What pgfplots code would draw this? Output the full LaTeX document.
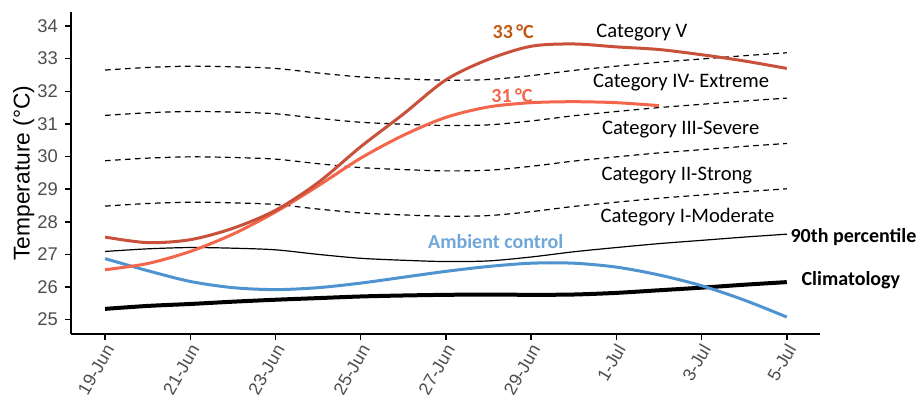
\documentclass[border=0pt]{standalone}
\usepackage{pgfplots}
\pgfplotsset{compat=1.18}
\usepackage{fontspec}
\setmainfont{Liberation Sans}
\newfontfamily\calib{Carlito}
\definecolor{darkred}{HTML}{C9503A}
\definecolor{orng}{HTML}{F4664B}
\definecolor{blu}{HTML}{4F94D1}
\definecolor{txt33}{HTML}{C65911}
\definecolor{txt31}{HTML}{F4664B}
\definecolor{txtblu}{HTML}{6FA7DA}
\definecolor{ticktxt}{HTML}{4D4D4D}
\begin{document}
\begin{tikzpicture}
\begin{axis}[
  scale only axis,
  width=374.5pt, height=161pt,
  xmin=-0.8, xmax=16.78, ymin=24.56, ymax=34.43,
  axis lines=left,
  axis line style={line width=0.75pt, -},
  xtick={0,2,4,6,8,10,12,14,16},
  xticklabels={19-Jun,21-Jun,23-Jun,25-Jun,27-Jun,29-Jun,1-Jul,3-Jul,5-Jul},
  ytick={25,26,...,34},
  tick align=outside,
  major tick length=3pt,
  tick style={line width=0.75pt, black},
  x tick label style={xshift=4pt, yshift=0pt, rotate=60, anchor=east, font=\fontsize{8.9}{10}\selectfont, text=ticktxt},
  y tick label style={font=\fontsize{9.2}{10}\selectfont, text=ticktxt},
  /pgf/number format/assume math mode=true,
  ylabel={Temperature (°C)},
  ylabel style={font=\fontsize{11.4}{12}\selectfont, at={(axis description cs:-0.063,0.5)}, anchor=center},
  clip=false,
]
\coordinate (sw) at (rel axis cs:0,0);
\coordinate (ne) at (rel axis cs:1,1);
% category thresholds
\addplot[black, line width=0.6pt, dash pattern=on 2.8pt off 2.2pt, smooth] coordinates {
(0,28.48)(1,28.56)(2,28.60)(3,28.58)(4,28.53)(5,28.39)(6,28.27)(7,28.21)(8,28.17)(9,28.19)(10,28.31)(11,28.47)(12,28.60)(13,28.72)(14,28.82)(15,28.92)(16,29.01)};
\addplot[black, line width=0.6pt, dash pattern=on 2.8pt off 2.2pt, smooth] coordinates {
(0,29.87)(1,29.95)(2,29.99)(3,29.97)(4,29.92)(5,29.78)(6,29.66)(7,29.60)(8,29.56)(9,29.58)(10,29.70)(11,29.86)(12,29.99)(13,30.11)(14,30.21)(15,30.31)(16,30.40)};
\addplot[black, line width=0.6pt, dash pattern=on 2.8pt off 2.2pt, smooth] coordinates {
(0,31.26)(1,31.34)(2,31.38)(3,31.36)(4,31.31)(5,31.17)(6,31.05)(7,30.99)(8,30.95)(9,30.97)(10,31.09)(11,31.25)(12,31.38)(13,31.50)(14,31.60)(15,31.70)(16,31.79)};
\addplot[black, line width=0.6pt, dash pattern=on 2.8pt off 2.2pt, smooth] coordinates {
(0,32.65)(1,32.73)(2,32.77)(3,32.75)(4,32.70)(5,32.56)(6,32.44)(7,32.38)(8,32.34)(9,32.36)(10,32.48)(11,32.64)(12,32.77)(13,32.89)(14,32.99)(15,33.09)(16,33.18)};
% 90th percentile
\addplot[black, line width=0.6pt, smooth] coordinates {
(0,27.09)(1,27.17)(2,27.21)(3,27.19)(4,27.14)(5,27.00)(6,26.88)(7,26.82)(8,26.78)(9,26.80)(10,26.92)(11,27.08)(12,27.21)(13,27.33)(14,27.43)(15,27.53)(16,27.62)};
% climatology
\addplot[black, line width=2pt, smooth] coordinates {
(0,25.33)(1,25.42)(2,25.48)(3,25.55)(4,25.61)(5,25.66)(6,25.71)(7,25.74)(8,25.76)(9,25.77)(10,25.76)(11,25.77)(12,25.82)(13,25.90)(14,25.98)(15,26.07)(16,26.15)};
% ambient control
\addplot[blu, line width=1.5pt, smooth] coordinates {
(0,26.87)(1,26.50)(2,26.17)(3,25.98)(4,25.92)(5,25.98)(6,26.12)(7,26.30)(8,26.48)(9,26.63)(10,26.73)(11,26.73)(12,26.61)(13,26.37)(14,26.04)(15,25.60)(16,25.08)};
% 31C
\addplot[orng, line width=1.5pt, smooth] coordinates {
(0,26.53)(1,26.72)(2,27.09)(3,27.62)(4,28.30)(5,29.10)(6,29.95)(7,30.65)(8,31.20)(9,31.52)(10,31.65)(11,31.68)(12,31.65)(13,31.56)};
% 33C
\addplot[darkred, line width=1.5pt, smooth] coordinates {
(0,27.53)(1,27.36)(2,27.45)(3,27.80)(4,28.35)(5,29.20)(6,30.30)(7,31.30)(8,32.35)(9,32.98)(10,33.38)(11,33.45)(12,33.36)(13,33.28)(14,33.12)(15,32.93)(16,32.70)};
% annotations
\node[font=\calib\bfseries\fontsize{10}{12}\selectfont, text=txt33] at (axis cs:9.58,33.82) {33\,°C};
\node[font=\calib\bfseries\fontsize{10}{12}\selectfont, text=txt31] at (axis cs:9.55,31.88) {31\,°C};
\node[font=\calib\fontsize{10.3}{12}\selectfont, anchor=base] at (axis cs:12.6,33.65) {Category V};
\node[font=\calib\fontsize{10.3}{12}\selectfont, anchor=base] at (axis cs:13.52,32.12) {Category IV- Extreme};
\node[font=\calib\fontsize{10.3}{12}\selectfont, anchor=base] at (axis cs:13.51,30.66) {Category III-Severe};
\node[font=\calib\fontsize{10.3}{12}\selectfont, anchor=base] at (axis cs:13.42,29.28) {Category II-Strong};
\node[font=\calib\fontsize{10.3}{12}\selectfont, anchor=base] at (axis cs:13.67,27.98) {Category I-Moderate};
\node[font=\calib\bfseries\fontsize{10}{12}\selectfont, anchor=base west, inner xsep=0pt] at (axis cs:16.08,27.35) {90th percentile};
\node[font=\calib\bfseries\fontsize{10}{12}\selectfont, anchor=base west, inner xsep=0pt] at (axis cs:16.34,26.04) {Climatology};
\node[font=\calib\bfseries\fontsize{10}{12}\selectfont, anchor=base, text=txtblu] at (axis cs:9.17,27.17) {Ambient control};
\end{axis}
\pgfresetboundingbox
\path ([shift={(-35.5pt,-34.5pt)}]sw) rectangle ([shift={(50.5pt,6pt)}]ne);
\end{tikzpicture}
\end{document}
